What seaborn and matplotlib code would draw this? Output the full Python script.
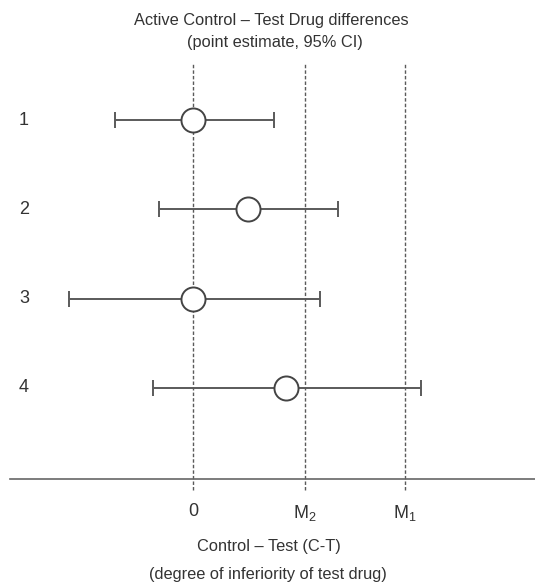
import numpy as np
import pandas as pd
import matplotlib
matplotlib.use("Agg")
import matplotlib.pyplot as plt
import seaborn as sns

# data (units along the C-T axis)
studies = ["1", "2", "3", "4"]
estimates = [0.0, 0.55, 0.0, 0.93]
ci_low = [-0.78, -0.34, -1.24, -0.40]
ci_high = [0.81, 1.45, 1.27, 2.28]
margin_pos = [0.0, 1.12, 2.12]
margin_labels = ["0", "M$_2$", "M$_1$"]

df = pd.DataFrame({"study": studies, "est": estimates, "lo": ci_low, "hi": ci_high})
df["row"] = np.arange(1, len(df) + 1)

sns.set_style("white")
plt.rcParams["font.family"] = ["Liberation Sans", "DejaVu Sans"]
plt.rcParams["mathtext.fontset"] = "custom"
plt.rcParams["mathtext.rm"] = "Liberation Sans"
plt.rcParams["mathtext.it"] = "Liberation Sans"

W, H = 535, 586
fig = plt.figure(figsize=(W / 100, H / 100), dpi=100)
ax = fig.add_axes([10 / W, (H - 479) / H, (W - 10) / W, (479 - 63) / H])

line_col = "#5a5a5a"
text_col = "#333333"

# reference lines (dashed), extending a little under the axis
for xm in margin_pos:
    ax.axvline(xm, ymin=-11 / 416, ymax=1, color=line_col, lw=1.0,
               ls=(0, (2.5, 1.5)), clip_on=False, zorder=1)

# confidence intervals
ax.errorbar(df["est"], df["row"],
            xerr=[df["est"] - df["lo"], df["hi"] - df["est"]],
            fmt="none", ecolor=line_col, elinewidth=1.4, capsize=6,
            capthick=1.4, zorder=2)

# point estimates
sns.scatterplot(data=df, x="est", y="row", ax=ax, s=300, marker="o",
                facecolor="white", edgecolor="#444444", linewidth=1.4,
                zorder=3, legend=False)

ax.set_xlim(-1.83, 3.42)
ax.set_ylim(5.02, 0.36)

for s in ["top", "right", "left"]:
    ax.spines[s].set_visible(False)
ax.spines["bottom"].set_color("#666666")
ax.spines["bottom"].set_linewidth(1.2)

ax.set_yticks([])
ax.set_xticks(margin_pos)
ax.set_xticklabels(margin_labels, fontsize=13, color=text_col)
ax.tick_params(axis="x", length=0, pad=17)
ax.set_xlabel("")
ax.set_ylabel("")

for r, lab in zip(df["row"], df["study"]):
    ax.text(14 / (W - 10), r, lab, transform=ax.get_yaxis_transform(),
            ha="center", va="center", fontsize=13, color=text_col)

# titles and axis caption
fig.text(271 / W, 1 - 20 / H, "Active Control \u2013 Test Drug differences",
         ha="center", va="center", fontsize=11.8, color=text_col)
fig.text(275 / W, 1 - 43 / H, "(point estimate, 95% CI)",
         ha="center", va="center", fontsize=11.8, color=text_col)
fig.text(269 / W, 1 - 547 / H, "Control \u2013 Test (C-T)",
         ha="center", va="center", fontsize=11.8, color=text_col)
fig.text(268 / W, 1 - 575 / H, "(degree of inferiority of test drug)",
         ha="center", va="center", fontsize=11.8, color=text_col)

fig.savefig("out.png", dpi=100, facecolor="white")
